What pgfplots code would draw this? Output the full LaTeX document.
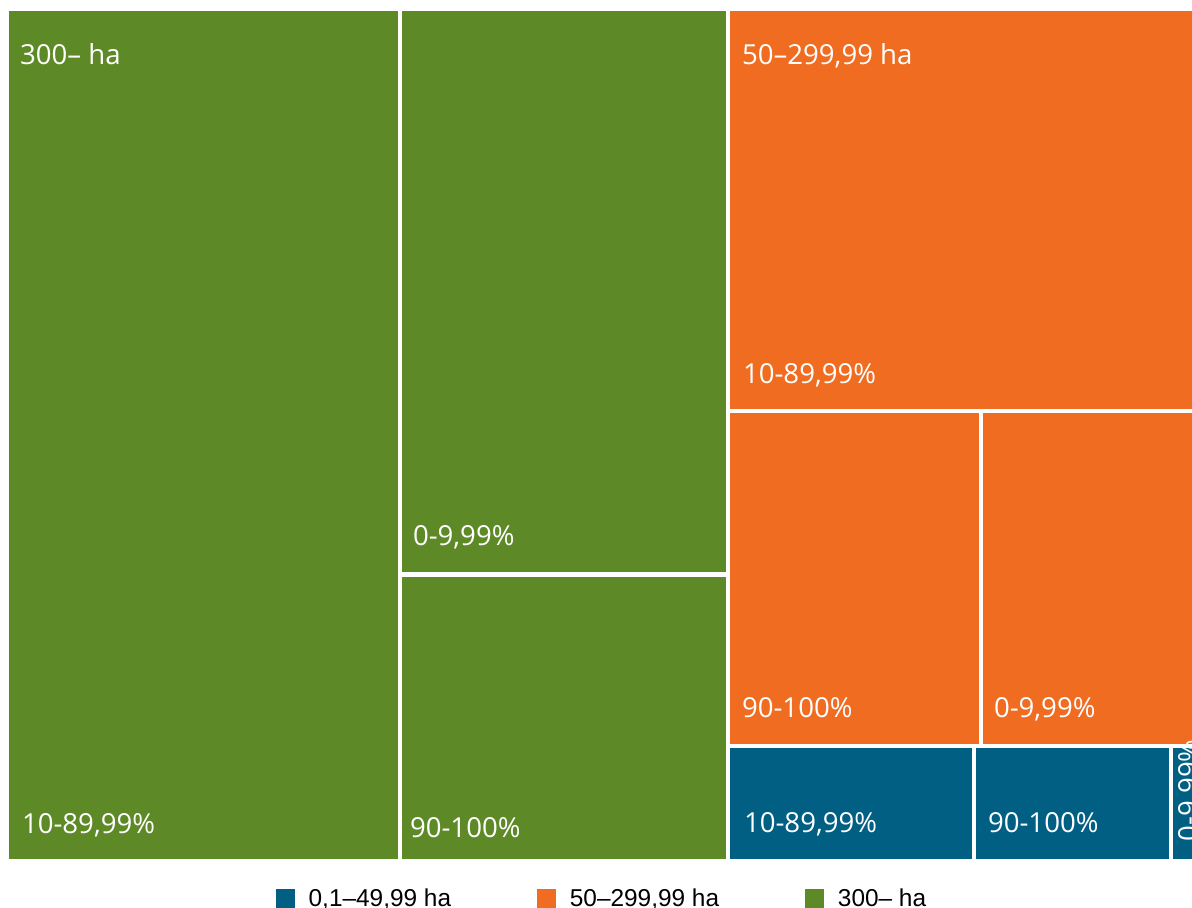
\documentclass[border=0pt]{standalone}
\usepackage{pgfplots}
\pgfplotsset{compat=1.18}
\usepackage{fontspec}
\setmainfont{Open Sans}
\newfontfamily\legfont{Liberation Sans}
\definecolor{cgreen}{RGB}{94,137,39}
\definecolor{corange}{RGB}{239,108,33}
\definecolor{cblue}{RGB}{0,95,131}
\tikzset{lbl/.style={inner sep=0pt, outer sep=0pt, text=white, anchor=base west,
    font=\fontsize{13.8bp}{16bp}\selectfont}}

\begin{document}
\begin{tikzpicture}
\begin{axis}[
    scale only axis, width=596bp, height=454bp,
    xmin=0, xmax=1192, ymin=0, ymax=908, y dir=reverse,
    hide axis, clip=false,
    legend columns=3,
    legend style={at={(axis cs:603,899)}, anchor=center, draw=none, fill=none,
        font=\legfont\fontsize{12.2bp}{14bp}\selectfont, inner sep=0pt,
        /tikz/every even column/.append style={column sep=41bp},
        /tikz/every odd column/.append style={column sep=5bp}},
    rect/.style={draw=none, forget plot},
]
    % 300- ha
    \addplot[rect, fill=cgreen] coordinates {(9,11) (398,11) (398,859) (9,859)} --cycle;
    \addplot[rect, fill=cgreen] coordinates {(402,11) (726,11) (726,572) (402,572)} --cycle;
    \addplot[rect, fill=cgreen] coordinates {(402,577) (726,577) (726,859) (402,859)} --cycle;
    % 50-299,99 ha
    \addplot[rect, fill=corange] coordinates {(730,11) (1192,11) (1192,409) (730,409)} --cycle;
    \addplot[rect, fill=corange] coordinates {(730,413) (979,413) (979,744) (730,744)} --cycle;
    \addplot[rect, fill=corange] coordinates {(983,413) (1192,413) (1192,744) (983,744)} --cycle;
    % 0,1-49,99 ha
    \addplot[rect, fill=cblue] coordinates {(730,748) (972,748) (972,859) (730,859)} --cycle;
    \addplot[rect, fill=cblue] coordinates {(976,748) (1169,748) (1169,859) (976,859)} --cycle;
    \addplot[rect, fill=cblue] coordinates {(1173,748) (1192,748) (1192,859) (1173,859)} --cycle;

    \node[lbl] at (axis cs:20,65) {300– ha};
    \node[lbl] at (axis cs:22,833) {10-89,99\%};
    \node[lbl] at (axis cs:413,545) {0-9,99\%};
    \node[lbl] at (axis cs:410,837) {90-100\%};
    \node[lbl] at (axis cs:742,65) {50–299,99 ha};
    \node[lbl] at (axis cs:743,383) {10-89,99\%};
    \node[lbl] at (axis cs:742,717) {90-100\%};
    \node[lbl] at (axis cs:994,717) {0-9,99\%};
    \node[lbl] at (axis cs:744,832) {10-89,99\%};
    \node[lbl] at (axis cs:988,832) {90-100\%};
    \node[lbl, anchor=north west, rotate=90] at (axis cs:1178,841) {0-9,99\%};

    \addlegendimage{legend image code/.code={\fill[cblue] (0bp,-5bp) rectangle (9bp,5bp);}}
    \addlegendentry{0,1–49,99 ha}
    \addlegendimage{legend image code/.code={\fill[corange] (0bp,-5bp) rectangle (9bp,5bp);}}
    \addlegendentry{50–299,99 ha}
    \addlegendimage{legend image code/.code={\fill[cgreen] (0bp,-5bp) rectangle (9bp,5bp);}}
    \addlegendentry{300– ha}
\end{axis}
\pgfresetboundingbox
\path (current axis.south west) rectangle (current axis.north east);
\end{tikzpicture}
\end{document}
